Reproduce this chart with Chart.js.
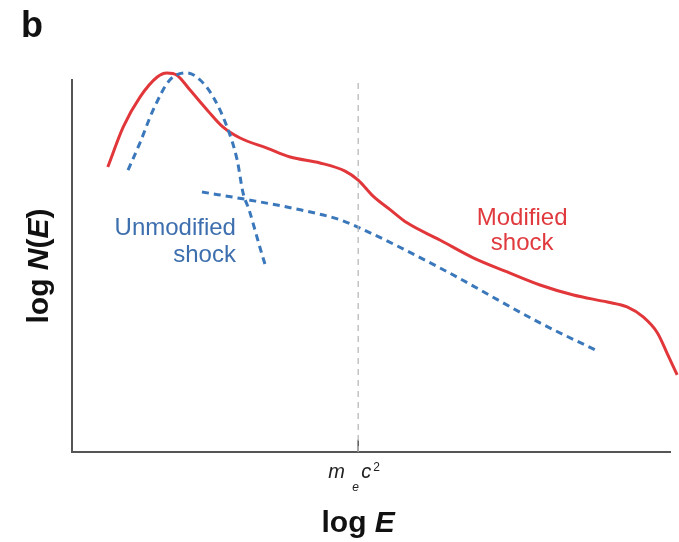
<!DOCTYPE html>
<html>
<head>
<meta charset="utf-8">
<script src="https://cdn.jsdelivr.net/npm/chart.js@4"></script>
<style>
  html, body { margin: 0; padding: 0; background: #fff; }
  #wrap { width: 679px; height: 542px; position: relative; }
</style>
</head>
<body>
<div id="wrap"><canvas id="chart"></canvas></div>
<script>
// schematic spectrum, arbitrary log units (x: log E, y: log N(E))
const modifiedX = [6.0, 8.6, 11.4, 14.3, 15.9, 17.6, 19.8, 22.7, 25.3, 28.2, 32.7, 36.6, 41.6, 45.8, 48.0, 50.5, 53.4, 56.2, 61.7, 67.3, 73.0, 78.5, 84.1, 89.8, 93.1, 95.8, 98.2, 99.8, 101.5];
const modifiedY = [76.6, 87.4, 95.4, 100.8, 101.9, 101.3, 97.3, 91.9, 87.4, 84.4, 81.7, 79.3, 77.7, 75.5, 73.1, 68.8, 65.1, 61.6, 57.0, 52.2, 48.4, 44.9, 42.2, 40.3, 39.0, 36.3, 32.0, 26.6, 20.7];

const thermalX = [9.4, 11.4, 13.6, 16.4, 19.3, 21.5, 23.7, 26.0, 27.7, 28.7, 29.7, 31.5, 32.4];
const thermalY = [75.8, 83.1, 91.9, 100.0, 101.9, 100.0, 95.4, 87.4, 78.5, 69.6, 65.1, 55.1, 50.3];

const powerX = [21.8, 29.9, 38.3, 45.0, 48.3, 61.7, 78.5, 87.8];
const powerY = [69.9, 67.7, 65.1, 62.4, 60.2, 49.5, 34.7, 27.4];

const restMass = 48.0; // m_e c^2 on the log E axis

const RED = '#e2373a';
const BLUE = '#3a78bb';
const FONT = '"Liberation Sans", Arial, sans-serif';

const pts = (xs, ys) => xs.map((x, i) => ({ x: x, y: ys[i] }));

const labelsPlugin = {
  id: 'labels',
  afterDraw(chart) {
    const ctx = chart.ctx;
    const xs = chart.scales.x, ys = chart.scales.y;
    const a = chart.chartArea;
    ctx.save();
    ctx.textBaseline = 'alphabetic';

    // panel letter
    ctx.fillStyle = '#111';
    ctx.font = 'bold 36px ' + FONT;
    ctx.textAlign = 'left';
    ctx.fillText('b', 21, 37);

    // curve labels
    ctx.font = '24px ' + FONT;
    ctx.fillStyle = '#3d6fae';
    ctx.textAlign = 'right';
    ctx.fillText('Unmodified', xs.getPixelForValue(27.5), ys.getPixelForValue(58.3));
    ctx.fillText('shock', xs.getPixelForValue(27.5), ys.getPixelForValue(51.1));
    ctx.fillStyle = '#e03a3e';
    ctx.textAlign = 'center';
    ctx.fillText('Modified', xs.getPixelForValue(75.5), ys.getPixelForValue(61.0));
    ctx.fillText('shock', xs.getPixelForValue(75.5), ys.getPixelForValue(54.3));

    // m_e c^2 tick label
    const mx = xs.getPixelForValue(restMass);
    const by = a.bottom + 26;
    ctx.fillStyle = '#222';
    ctx.textAlign = 'left';
    ctx.font = 'italic 20px ' + FONT;
    ctx.fillText('m', mx - 30, by);
    ctx.fillText('c', mx + 3, by);
    ctx.font = 'italic 12px ' + FONT;
    ctx.fillText('e', mx - 6, by + 13);
    ctx.font = '12px ' + FONT;
    ctx.fillText('2', mx + 15, by - 7);

    // x axis title: log E
    ctx.fillStyle = '#111';
    ctx.font = 'bold 30px ' + FONT;
    const w1 = ctx.measureText('log ').width;
    ctx.font = 'italic bold 30px ' + FONT;
    const w2 = ctx.measureText('E').width;
    const x0 = mx - (w1 + w2) / 2;
    ctx.font = 'bold 30px ' + FONT;
    ctx.fillText('log ', x0, 532);
    ctx.font = 'italic bold 30px ' + FONT;
    ctx.fillText('E', x0 + w1, 532);

    // y axis title: log N(E)
    ctx.translate(48, (a.top + a.bottom) / 2);
    ctx.rotate(-Math.PI / 2);
    const parts = [['log ', false], ['N', true], ['(', false], ['E', true], [')', false]];
    let total = 0;
    const widths = parts.map(p => {
      ctx.font = (p[1] ? 'italic ' : '') + 'bold 30px ' + FONT;
      const w = ctx.measureText(p[0]).width;
      total += w;
      return w;
    });
    let px = -total / 2;
    parts.forEach((p, i) => {
      ctx.font = (p[1] ? 'italic ' : '') + 'bold 30px ' + FONT;
      ctx.fillText(p[0], px, 0);
      px += widths[i];
    });
    ctx.restore();
  }
};

new Chart(document.getElementById('chart'), {
  type: 'line',
  data: {
    datasets: [
      { label: 'rest mass', data: [{ x: restMass, y: 0 }, { x: restMass, y: 100 }], borderColor: '#b4b4b4', borderWidth: 1.2, borderDash: [6, 5], pointRadius: 0 },
      { label: 'tick', data: [{ x: restMass, y: 0 }, { x: restMass, y: 3.3 }], borderColor: '#555', borderWidth: 1.5, pointRadius: 0 },
      { label: 'Unmodified shock (thermal)', data: pts(thermalX, thermalY), borderColor: BLUE, borderWidth: 3, borderDash: [7, 5], pointRadius: 0, cubicInterpolationMode: 'monotone', clip: false },
      { label: 'Unmodified shock (power law)', data: pts(powerX, powerY), borderColor: BLUE, borderWidth: 3, borderDash: [7, 5], pointRadius: 0, cubicInterpolationMode: 'monotone', clip: false },
      { label: 'Modified shock', data: pts(modifiedX, modifiedY), borderColor: RED, borderWidth: 3, pointRadius: 0, cubicInterpolationMode: 'monotone', clip: false }
    ]
  },
  options: {
    responsive: true,
    maintainAspectRatio: false,
    animation: false,
    layout: { padding: { left: 72, top: 80, right: 9, bottom: 90 } },
    plugins: { legend: { display: false }, tooltip: { enabled: false } },
    scales: {
      x: { type: 'linear', min: 0, max: 100.3, grid: { display: false, drawTicks: false }, ticks: { display: false }, border: { display: true, color: '#555', width: 2 } },
      y: { type: 'linear', min: 0, max: 100, grid: { display: false, drawTicks: false }, ticks: { display: false }, border: { display: true, color: '#555', width: 2 } }
    }
  },
  plugins: [labelsPlugin]
});
</script>
</body>
</html>
